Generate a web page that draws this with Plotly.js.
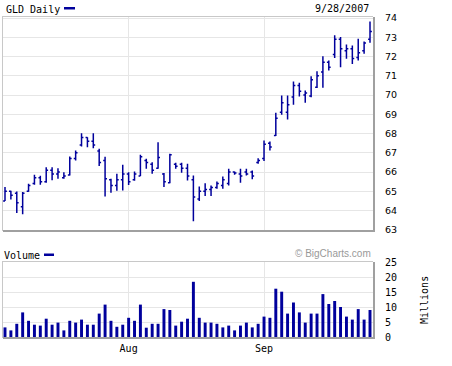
<!DOCTYPE html>
<html><head><meta charset="utf-8">
<script src="https://cdn.plot.ly/plotly-3.0.1.min.js"></script>
<style>html,body{margin:0;padding:0;background:#fff}#chart{width:452px;height:366px}</style>
</head><body><div id="chart"></div>
<script>
const dates = [
 '2007-07-02','2007-07-03','2007-07-05','2007-07-06','2007-07-09','2007-07-10','2007-07-11','2007-07-12','2007-07-13',
 '2007-07-16','2007-07-17','2007-07-18','2007-07-19','2007-07-20','2007-07-23','2007-07-24','2007-07-25','2007-07-26','2007-07-27',
 '2007-07-30','2007-07-31',
 '2007-08-01','2007-08-02','2007-08-03','2007-08-06','2007-08-07','2007-08-08','2007-08-09','2007-08-10',
 '2007-08-13','2007-08-14','2007-08-15','2007-08-16','2007-08-17','2007-08-20','2007-08-21','2007-08-22','2007-08-23','2007-08-24',
 '2007-08-27','2007-08-28','2007-08-29','2007-08-30','2007-08-31',
 '2007-09-04','2007-09-05','2007-09-06','2007-09-07','2007-09-10','2007-09-11','2007-09-12','2007-09-13','2007-09-14',
 '2007-09-17','2007-09-18','2007-09-19','2007-09-20','2007-09-21','2007-09-24','2007-09-25','2007-09-26','2007-09-27','2007-09-28'
];
const open  = [64.5,65.0,64.9,64.2,65.0,65.4,65.7,65.5,66.1,65.9,65.7,65.85,66.7,67.4,67.8,67.6,67.1,66.6,65.6,65.3,65.6,
               65.9,65.6,65.8,66.6,66.4,66.2,65.9,65.45,66.4,66.4,66.2,65.6,64.6,65.0,65.1,65.2,65.3,65.4,66.0,65.9,66.0,66.0,66.5,
               66.7,67.5,67.9,69.1,69.1,69.9,70.5,70.0,69.95,70.4,71.2,71.7,72.1,72.9,72.3,72.4,71.95,72.3,72.9];
const high  = [65.22,65.03,64.99,64.96,65.39,65.86,65.81,66.25,66.25,66.2,65.99,66.81,67.12,68.02,67.81,68.02,67.21,66.8,65.65,65.91,66.38,
               65.99,66.03,66.9,66.69,66.51,67.55,65.95,66.95,66.48,66.48,66.43,65.82,65.25,65.42,65.3,65.51,65.77,66.17,66.03,66.17,66.17,66.08,66.72,
               67.64,67.59,69.08,69.98,69.98,70.71,70.64,70.24,70.98,71.23,72.01,71.8,73.1,73.01,72.63,72.58,72.92,72.78,73.82];
const low   = [64.49,64.58,63.87,63.81,64.98,65.34,65.34,65.44,65.58,65.65,65.65,65.82,66.6,67.33,67.29,67.24,66.31,64.73,64.92,65.03,65.04,
               65.33,65.55,65.79,66.17,65.91,66.17,65.22,65.42,66.17,65.96,65.56,63.45,64.49,64.75,64.75,65.13,65.13,65.3,65.86,65.44,65.82,65.62,66.43,
               66.57,67.12,67.87,68.98,68.73,69.5,69.93,69.6,69.89,70.36,70.38,71.28,71.92,71.45,71.89,71.61,71.8,72.15,72.72];
const close = [65.0,64.8,64.4,64.9,65.3,65.7,65.5,66.1,65.9,66.0,65.8,66.7,67.0,67.8,67.6,67.4,66.5,65.65,65.3,65.6,65.9,
               65.5,65.9,66.8,66.5,66.1,66.75,65.5,66.9,66.3,66.2,65.8,64.7,65.0,65.1,65.2,65.4,65.6,66.0,65.95,65.8,65.9,65.8,66.6,
               67.45,67.3,68.8,69.6,69.5,70.5,70.2,70.1,70.8,71.0,71.7,71.45,72.9,72.4,72.4,71.9,72.2,72.7,73.3];
const volume = [3.2,2.2,4.4,8.2,5.4,4.1,3.8,6.1,4.1,4.8,2.2,5.4,4.8,5.8,4.1,4.1,7.8,10.8,5.4,3.4,4.1,
                6.4,5.4,10.8,3.1,4.4,4.4,9.3,9.0,3.8,5.1,6.1,18.4,6.4,4.8,4.8,4.4,3.2,3.8,2.2,3.8,4.8,3.2,4.4,
                6.8,6.4,16.1,15.1,7.8,11.5,8.2,4.8,7.8,7.8,14.3,11.0,12.0,10.0,6.8,5.8,9.3,5.8,9.0];
const monthTicks  = ['2007-08-01','2007-09-04'];
const monthLabels = ['Aug','Sep'];
const priceTicks  = [63,64,65,66,67,68,69,70,71,72,73,74];
const volumeTicks = [0,5,10,15,20,25];
const chartTitle = 'GLD Daily';
const asOfDate   = '9/28/2007';
const volTitle   = 'Volume';
const volUnits   = 'Millions';
const credit     = '\u00A9 BigCharts.com';

const W = 452, H = 366, M = {l:3, r:79, t:16, b:29};
const pw = W - M.l - M.r, ph = H - M.t - M.b;
const px = x => (x - M.l) / pw;
const py = y => (H - M.b - y) / ph;
const NAVY = '#00009C';
const MONO = 'DejaVu Sans Mono';

const traces = [
  {type:'ohlc', x:dates, open:open, high:high, low:low, close:close, xaxis:'x', yaxis:'y',
   increasing:{line:{color:NAVY, width:1.5}}, decreasing:{line:{color:NAVY, width:1.5}},
   tickwidth:0.32, hoverinfo:'skip', showlegend:false},
  {type:'bar', x:dates, y:volume, xaxis:'x', yaxis:'y2', marker:{color:NAVY, line:{width:0}},
   width:0.5, hoverinfo:'skip', showlegend:false}
];

function lineShape(x0,y0,x1,y1,color,w){return {type:'line',xref:'paper',yref:'paper',x0:px(x0),x1:px(x1),y0:py(y0),y1:py(y1),line:{color:color,width:w},layer:'above'};}
function rectShape(x0,y0,x1,y1,color){return {type:'rect',xref:'paper',yref:'paper',x0:px(x0),x1:px(x1),y0:py(y0),y1:py(y1),fillcolor:color,line:{width:0},layer:'above'};}

const LIGHT = '#c8c8c8', DARK = '#a0a0a0';
const shapes = [
  lineShape(2.5,16,2.5,231,LIGHT,1), lineShape(2,16.5,373,16.5,LIGHT,1),
  rectShape(373,17,375,232,DARK), rectShape(3,230,375,232,DARK),
  lineShape(2.5,261,2.5,338,LIGHT,1), lineShape(2,261.5,373,261.5,LIGHT,1),
  rectShape(373,262,375,339,DARK), rectShape(3,337,375,339,DARK),
  rectShape(64,7,75,9.5,NAVY), rectShape(44,253.5,54,256,NAVY)
];

function ann(text,x,y,xanchor,font,extra){return Object.assign({text:text,xref:'paper',yref:'paper',x:px(x),y:py(y),xanchor:xanchor,yanchor:'middle',showarrow:false,font:font},extra||{});}
const annotations = [
  ann(chartTitle,4,9,'left',{family:MONO,size:10,color:'#000'}),
  ann(asOfDate,371,8.5,'right',{family:MONO,size:10,color:'#000'}),
  ann(volTitle,2,255,'left',{family:MONO,size:10,color:'#000'}),
  ann(credit,373,253,'right',{family:'Liberation Sans',size:10,color:'#999'}),
  ann(volUnits,424,300,'center',{family:MONO,size:10,color:'#000'},{textangle:-90})
];

const layout = {
  width:W, height:H, margin:M, paper_bgcolor:'#fff', plot_bgcolor:'#fff', showlegend:false,
  xaxis:{type:'category', range:[-0.34,62.51], anchor:'y2', tickmode:'array', tickvals:monthTicks, ticktext:monthLabels,
         showgrid:true, gridcolor:'#e6e6e6', gridwidth:1, zeroline:false, showline:false, ticks:'',
         tickfont:{family:MONO,size:10,color:'#000'}, ticklabelstandoff:4, rangeslider:{visible:false}, fixedrange:true},
  yaxis:{domain:[py(230),1], range:[62.99,74.106], side:'right', anchor:'x', tickmode:'array', tickvals:priceTicks,
         showgrid:true, gridcolor:'#e6e6e6', zeroline:false, showline:false, ticks:'',
         tickfont:{family:'DejaVu Sans',size:9.5,color:'#000'}, ticklabelstandoff:11, fixedrange:true},
  yaxis2:{domain:[0,py(262)], range:[0,25], side:'right', anchor:'x', tickmode:'array', tickvals:volumeTicks,
         showgrid:true, gridcolor:'#e6e6e6', zeroline:false, showline:false, ticks:'',
         tickfont:{family:MONO,size:10,color:'#000'}, ticklabelstandoff:11, fixedrange:true},
  shapes:shapes, annotations:annotations
};
Plotly.newPlot('chart', traces, layout, {staticPlot:true, displayModeBar:false});
</script></body></html>
